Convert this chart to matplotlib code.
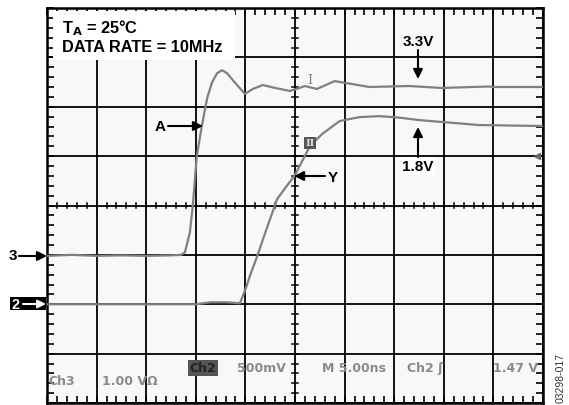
import numpy as np
import matplotlib
matplotlib.use("Agg")
import matplotlib.pyplot as plt

# ---- data (oscilloscope divisions: x 0..10, y 0..8) ----
ch3_x = [0.0, 0.5, 1.0, 1.5, 2.0, 2.5, 2.70, 2.78, 2.88, 2.94, 3.02, 3.12, 3.23, 3.33, 3.43, 3.53, 3.63, 3.78,
         3.99, 4.15, 4.35, 4.6, 4.9, 5.03, 5.2, 5.44, 5.8, 6.5, 7.3, 7.95, 8.9, 9.0, 10.0]
ch3_y = [2.98, 3.0, 2.98, 2.99, 2.98, 2.99, 3.0, 3.05, 3.45, 4.0, 5.0, 5.6, 6.18, 6.5, 6.68, 6.74, 6.68, 6.5,
         6.26, 6.36, 6.44, 6.38, 6.32, 6.36, 6.42, 6.36, 6.52, 6.40, 6.42, 6.38, 6.41, 6.40, 6.40]

ch2_x = [0.0, 1.0, 2.0, 3.0, 3.3, 3.6, 3.89, 4.0, 4.1, 4.23, 4.4, 4.64, 4.8, 5.0, 5.3, 5.55,
         5.9, 6.3, 6.7, 7.1, 7.5, 8.1, 8.7, 9.3, 10.0]
ch2_y = [2.0, 2.0, 2.0, 2.0, 2.04, 2.04, 2.02, 2.3, 2.6, 2.95, 3.45, 4.13, 4.35, 4.62, 5.2, 5.45,
         5.71, 5.79, 5.81, 5.78, 5.73, 5.68, 5.63, 5.62, 5.61]

scope_row_ch2 = ["500mV", "M 5.00ns", "Ch2 \u0283", "1.47 V"]
scope_row_ch3 = ["Ch3", "1.00 V\u03a9"]

W, H, DPI = 569, 406, 100
fig = plt.figure(figsize=(W / DPI, H / DPI), dpi=DPI)
fig.patch.set_facecolor("white")

L, R, T, B = 47, 543, 9, 404
ax = fig.add_axes([L / W, 1 - B / H, (R - L) / W, (B - T) / H])
ax.set_facecolor("#f8f8f8")
ax.set_xlim(0, 10)
ax.set_ylim(0, 8)


def px(x):
    return (x - L) / (R - L) * 10


def py(y):
    return (B - y) / (B - T) * 8


# graticule
ax.set_xticks(np.arange(0, 11, 1))
ax.set_yticks(np.arange(0, 9, 1))
ax.set_xticks(np.arange(0, 10.01, 0.2), minor=True)
ax.set_yticks(np.arange(0, 8.01, 0.2), minor=True)
ax.grid(True, which="major", color="black", lw=1.3)
ax.tick_params(which="both", direction="in", length=5, width=1.2, color="black",
               top=True, right=True, labelbottom=False, labelleft=False)
for s in ax.spines.values():
    s.set_linewidth(1.8)
    s.set_color("black")

tk = np.arange(0, 10.01, 0.2)
for t in tk:
    ax.plot([t, t], [4 - 0.06, 4 + 0.06], color="black", lw=1.1, zorder=2)
tk2 = np.arange(0, 8.01, 0.2)
for t in tk2:
    ax.plot([5 - 0.06, 5 + 0.06], [t, t], color="black", lw=1.1, zorder=2)

# traces
trace_col = "#808080"
ax.plot(ch3_x, ch3_y, color=trace_col, lw=1.6, zorder=3, solid_joinstyle="round")
ax.plot(ch2_x, ch2_y, color=trace_col, lw=1.6, zorder=3, solid_joinstyle="round")

# channel markers on traces
ax.text(px(310), py(81), "I", family="DejaVu Serif", fontsize=9, color=trace_col,
        ha="center", va="center", zorder=4)
ax.text(px(310), py(144), "II", family="DejaVu Serif", fontsize=7, fontweight="bold",
        color="#dddddd", ha="center", va="center", zorder=4,
        bbox=dict(boxstyle="square,pad=0.15", fc="#555555", ec="none"))
ax.plot([px(537)], [py(157)], marker="<", color="#666666", ms=5, zorder=4, clip_on=False)

# header box
ax.add_patch(plt.Rectangle((px(53), py(61)), px(235) - px(53), py(12) - py(61),
                           facecolor="white", edgecolor="none", zorder=5))
hfont = dict(family="Liberation Sans", fontweight="bold", fontsize=11.8, color="black", zorder=6)
ax.text(px(62), py(28), r"T$_\mathbf{A}$ = 25°C", ha="left", va="center", **hfont)
ax.text(px(62), py(48), "DATA RATE = 10MHz", ha="left", va="center", **hfont)

# arrows & labels
afont = dict(family="Liberation Sans", fontweight="bold", fontsize=11, color="black")
aprops = dict(arrowstyle="-|>", lw=1.5, color="black", mutation_scale=14, shrinkA=0, shrinkB=0)

ax.text(px(418), py(42), "3.3V", ha="center", va="center", **afont)
ax.annotate("", xy=(px(418), py(80)), xytext=(px(418), py(51)), arrowprops=aprops)
ax.text(px(418), py(167), "1.8V", ha="center", va="center", **afont,
        bbox=dict(boxstyle="square,pad=0.1", fc="white", ec="none"))
ax.annotate("", xy=(px(418), py(128)), xytext=(px(418), py(158)), arrowprops=aprops)
ax.text(px(160), py(127), "A", ha="center", va="center", **afont)
ax.annotate("", xy=(px(203), py(127)), xytext=(px(168), py(127)), arrowprops=aprops)
ax.text(px(333), py(178), "Y", ha="center", va="center", **afont)
ax.annotate("", xy=(px(294), py(177)), xytext=(px(325), py(177)), arrowprops=aprops)

ax.text(px(13), py(256), "3", ha="center", va="center", clip_on=False, **afont)
ax.annotate("", xy=(px(47), py(257)), xytext=(px(19), py(257)), arrowprops=aprops,
            annotation_clip=False)
ax.add_patch(plt.Rectangle((px(10), py(311)), px(46) - px(10), py(298) - py(311),
                           facecolor="black", edgecolor="none", clip_on=False, zorder=5))
ax.text(px(16), py(305), "2", ha="center", va="center", clip_on=False, zorder=6,
        family="Liberation Sans", fontweight="bold", fontsize=10.5, color="white")
wprops = dict(aprops, color="white", mutation_scale=12)
ax.annotate("", xy=(px(46), py(305)), xytext=(px(23), py(305)), arrowprops=wprops,
            annotation_clip=False, zorder=7)

# scope readout text
sfont = dict(family="DejaVu Sans", fontweight="bold", fontsize=9, color="#8a8a8a", va="center")
ax.text(px(203), py(369), "Ch2", ha="center", family="DejaVu Sans", fontweight="bold",
        fontsize=9, color="#222222", va="center", zorder=4,
        bbox=dict(boxstyle="square,pad=0.1", fc="#555555", ec="none"))
ax.text(px(237), py(369), scope_row_ch2[0], ha="left", **sfont)
ax.text(px(322), py(369), scope_row_ch2[1], ha="left", **sfont)
ax.text(px(407), py(369), scope_row_ch2[2], ha="left", **sfont)
ax.text(px(538), py(369), scope_row_ch2[3], ha="right", **sfont)
ax.text(px(48), py(382), scope_row_ch3[0], ha="left", **sfont)
ax.text(px(102), py(382), scope_row_ch3[1], ha="left", **sfont)

fig.text(561 / W, 1 - 378 / H, "03298-017", rotation=90, ha="center", va="center",
         family="Liberation Sans", fontsize=7.5, color="#333333")

fig.savefig("out.png", dpi=DPI)
